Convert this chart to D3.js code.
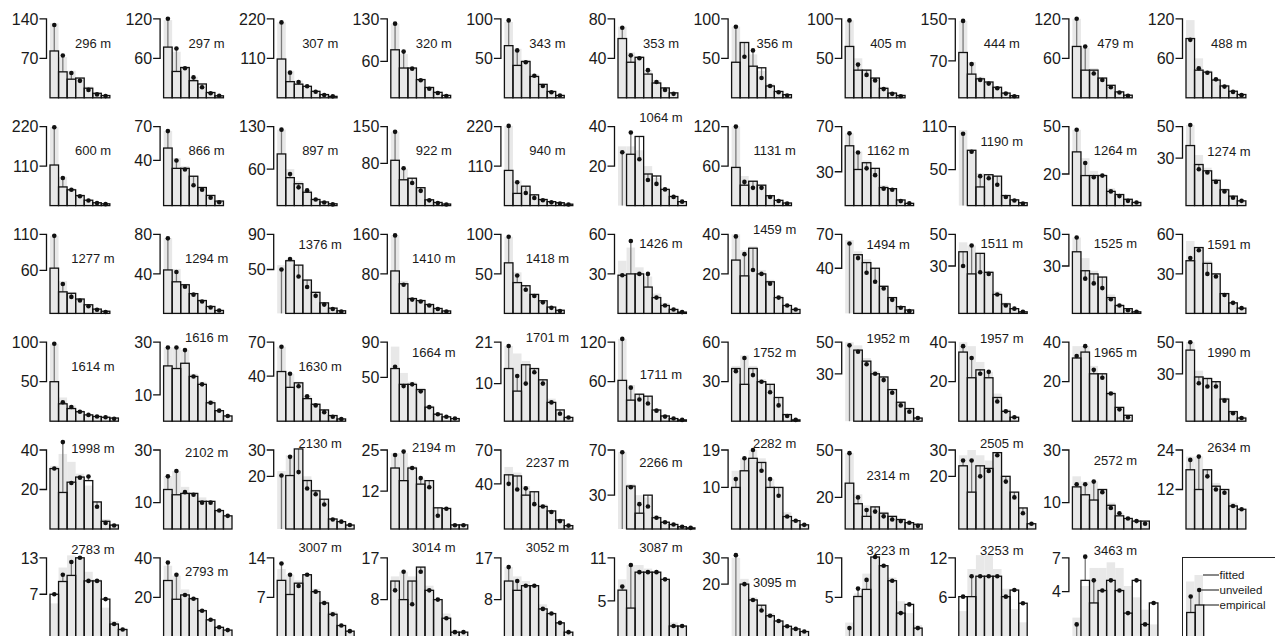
<!DOCTYPE html>
<html>
<head>
<meta charset="utf-8">
<script src="https://cdn.jsdelivr.net/npm/d3@7"></script>
<style>
  body { margin: 0; background: #fff; }
  svg { display: block; }
  text { font-family: "Liberation Sans", Arial, Helvetica, sans-serif; fill: #1a1a1a; }
</style>
</head>
<body>
<div id="chart"></div>
<script>
// site elevations, one panel each
const sites = ["296 m","297 m","307 m","320 m","343 m","353 m","356 m","405 m","444 m","479 m","488 m",
  "600 m","866 m","897 m","922 m","940 m","1064 m","1131 m","1162 m","1190 m","1264 m","1274 m",
  "1277 m","1294 m","1376 m","1410 m","1418 m","1426 m","1459 m","1494 m","1511 m","1525 m","1591 m",
  "1614 m","1616 m","1630 m","1664 m","1701 m","1711 m","1752 m","1952 m","1957 m","1965 m","1990 m",
  "1998 m","2102 m","2130 m","2194 m","2237 m","2266 m","2282 m","2314 m","2505 m","2572 m","2634 m",
  "2783 m","2793 m","3007 m","3014 m","3052 m","3087 m","3095 m","3223 m","3253 m","3463 m"];

// y axis tick labels (upper, lower)
const topTicks = [140,120,220,130,100,80,100,100,150,120,120,
  220,70,130,150,220,40,120,70,110,50,50,
  110,80,90,160,100,60,40,70,50,50,60,
  100,30,70,90,21,120,60,50,40,40,50,
  40,30,30,25,70,70,19,50,30,30,24,
  13,40,14,17,17,11,30,10,12,7];
const midTicks = [70,60,110,60,50,40,50,50,70,60,60,
  110,40,60,80,110,20,60,30,50,20,30,
  60,40,50,80,50,30,20,40,30,30,30,
  50,10,40,50,10,60,30,30,20,20,30,
  20,10,20,12,40,30,10,20,20,10,12,
  7,20,7,8,8,5,20,5,6,4];

// empirical counts per size class
const empirical = [
  [83,46,33,35,17,8,4],[77,40,46,26,21,8,3],[108,45,38,32,18,9,4],[79,49,49,30,17,9,4],
  [66,41,46,27,17,8,3],[60,36,41,24,15,10,5],[45,70,40,38,15,8,4],[65,35,35,25,12,6,3],
  [86,45,36,30,20,9,4],[78,42,42,30,19,9,4],[90,42,39,27,18,10,5],
  [113,52,44,28,15,8,5],[51,33,33,26,16,9,4],[85,46,36,22,10,6,3],[86,49,52,34,11,6,3],
  [98,34,54,30,17,11,8,4],[0,26,35,16,15,8.2,4.6,2],[58,31,37,31,15,8,4],[53,32,38,33,16,15,5,2],
  [0,77,26,43,41,14,8,4],[34,19,19,19,9,7,4,2],[38,26,22,16,10,6,3],
  [63,30,28,20,12,6,3],[44,32,29,20,13,7,3],[0,60,55,38,24,12,6,3],[86,60,30,26,18,10,5],
  [64,39,35,24,16,8,4],[29,30,30,20,12,6,3,1],[27,19,33,20,16,8,4,2],[0,52,45,40,24,14,6,3],
  [39,25,38,26,12,6,3,1],[39,27,25,23,10,5,3,1],[40,50,38,30,15,8,4],
  [50,22,16,12,8,6,5,4],[21,20,22,17,14,7,4,2],[44,30,34,20,15,10,5,2],[60,42,42,36,16,8,5,3],
  [14,8,15,14,11,5,3,1],[62,32,41,38,17,8,4,2],[40,28,40,30,28,18,5,1],[0,45,38,30,28,20,12,8,2],
  [35,22,26,22,12,5,2],[32,35,24,24,14,7,3],[45,28,27,25,14,6,2],
  [30.6,18.5,23.7,26.3,24.5,13.7,3.9,2],[15,13,13.5,13.5,10.5,10.5,7,5],
  [0,20.3,30.4,18.4,14.5,11.3,3.8,2.8,1.5],[19.3,15.3,19.3,14.2,15.3,6.7,6.5,1.3,1.3],
  [48,47,30,33,20,16,8,3],[0,38,14,30,10,6,4,2,1],[10,14,17,16,10,10,3,2,1],
  [29,16,8,14,10,8,6,4,3],[24,14,24,23,29,20,14,8,2],[16,13,11,15,9,5,4,3,3],[18,12,18,13,12,7,6],
  [7,9.1,10.1,13,9.2,9.2,6.2,2.1,1.2],[28.5,19,21.2,19.3,13.2,8.6,4.8,3.4],[10,7.5,9.5,11,8,6,4,2,1],
  [12,8,12,15,10,8,4,1,1],[12,10,11,11,6,5,3,1],[6.5,4,9,9,9,8,1.5,1.5],[0,20,14,12,8,6,4,3,2],
  [0,5.1,6.0,10.1,9.0,7.1,3.0,4.1,1.1],[6.1,6.1,9.2,9.2,9.2,6.1,7.1,5.1],[0,5,3,4.1,5,4.1,2.1,5,1.1,3]
];

// unveiled counts (dots)
const unveiled = [
  [129,75,44,30,14,6,3],[120,75,45,31,16,7,3],[210,70,44,32,17,8,4],[122,76,48,29,15,8,3],
  [98,60,45,28,15,7,3],[71,43,40,28,16,8,4],[90,52,60,25,15,7,3],[98,42,29,22,11,5,2],
  [146,64,34,27,18,8,3],[120,78,37,27,16,8,3],[88,45,38,28,17,9,4],
  [218,77,44,26,14,7,4],[66,40,32,18,14,7,3],[125,52,30,25,10,5,2],[140,71,43,28,10,5,2],
  [222,65,35,21,15,9,6,3],[27,37,23.5,13,11,8.2,4.4,2],[120,36,27,27,13,7,3],[64,47,33,27,15,14,4,2],
  [100,75,41,38,29,12,7,3],[48,27,18,19,9,6,3,2],[51,23,21,15,9,5,3],
  [108,41,23,18,10,5,2],[76,42,27,19,12,6,3],[50,62,42,30,20,10,5,2],[158,58,28,24,16,9,4],
  [97,48,30,22,14,7,3],[29,55,30,30,12,6,3,1],[39,30,22,20,15,8,4,2],[62,49,36,28,22,12,5,2],
  [30,43,26,25,12,5,3,1],[48,22,19,16,9,5,2,1],[42,48,30,28,14,8,4],
  [98,24,18,12,8,6,5,3],[28,28,27,17,14,7,4,2],[66,42,31,22,14,8,4,2],[62,40,42,34,16,8,5,3],
  [20,12,10,13,10,5,2,1],[125,51,33,27,16,7,4,2],[38,48,35,30,22,12,4,1],[48,44,36,30,26,18,10,6,2],
  [38,32,24,25,10,5,2],[33,38,26,22,14,6,2],[50,24,22,22,13,5,2],
  [30.6,44,23.3,26,26.6,11.3,3.1,1.8],[20,22,14,13,10,10,7,5],
  [20.3,27.4,21.6,15.4,13.2,9.3,3.6,2.8,1.5],[23.4,24.5,19.3,16.1,13.2,4.2,6.4,1.2,1.2],
  [40,35,36,22,20,15,7,3],[68,37,22,20,10,6,4,2,1],[12,17,19,14,12,8,3,2,1],
  [48,20,12,11,8,6,5,4,2],[26,26,20,22,28,18,12,6,2],[17,17,18,14,8,6,4,3,2],[21,22,16,12,11,7,6],
  [7,10.2,12.3,13,9.2,9.2,6.2,2.1,1.2],[37.6,31.4,21.2,19.3,13.2,8.6,4.8,3.4],[13,11,9,11,8,6,4,2,1],
  [10,14,7,14,10,8,4,1,1],[15,12,11,11,6,5,3,1],[7,10,9,9,9,8,1.5,1.5],[31,20,14,10,8,6,4,3,2],
  [1.1,6.1,7.2,10.1,9.0,7.1,3.0,4.1,1.1],[6.1,9.2,9.2,9.2,9.2,6.1,7.1,5.1],[1.1,7.1,5,4.1,5,4.1,2.1,5,1.1,3]
];

// fitted counts (grey background)
const fitted = [
  [132,72,48,34,20,9,4],[118,70,47,32,19,9,4],[210,75,48,34,20,10,5],[122,72,50,30,18,9,4],
  [96,62,48,30,18,9,4],[72,46,42,28,18,10,5],[90,70,55,34,18,9,4],[98,50,36,26,14,7,3],
  [146,68,40,30,20,9,4],[120,76,45,30,19,9,4],[118,60,42,30,20,10,5],
  [218,80,48,30,16,8,5],[66,42,35,27,17,9,4],[125,60,40,26,12,6,3],[140,70,52,34,12,6,3],
  [222,70,56,32,18,11,8,4],[30,30,28,20,14,9,5,2],[120,45,38,32,16,8,4],[64,48,40,33,18,15,5,2],
  [105,78,45,43,41,15,8,4],[48,30,22,20,11,7,4,2],[51,32,24,17,11,6,3],
  [108,45,30,21,13,6,3],[76,45,30,21,14,7,3],[55,62,55,38,24,12,6,3],[158,66,32,27,19,10,5],
  [97,52,36,25,16,8,4],[40,50,35,28,15,8,3,1],[40,32,34,22,17,9,4,2],[65,55,48,40,25,14,6,3],
  [45,43,38,27,14,7,3,1],[48,35,27,23,12,6,3,1],[55,50,40,30,16,8,4],
  [98,30,20,14,9,7,5,4],[28,28,27,18,15,8,4,2],[66,42,35,23,16,10,5,2],[85,55,45,38,18,9,5,3],
  [20,18,16,14,11,6,3,1],[125,55,42,38,18,8,4,2],[42,50,42,32,28,18,6,2],[50,48,40,32,28,20,12,8,2],
  [40,38,30,25,14,6,2],[38,38,28,24,15,7,3],[50,32,28,25,15,7,3],
  [32,38,34,28,22,14,5,2],[20,22,16,14,12,10,7,5],
  [22,28,30,20,15,11,4,3,1.5],[24,24,20,16,15,7,6.5,1.5,1.3],
  [55,50,38,33,22,16,8,3],[68,40,30,28,12,7,4,2,1],[14,17,19,17,12,10,4,2,1],
  [48,22,15,14,11,8,6,4,3],[28,30,28,26,29,20,14,8,2],[20,18,18,15,10,6,4,3,3],[22,22,18,14,12,8,6],
  [5.5,11.4,13.4,13,10.7,9.5,4.8,2.6,1.4],[36,31,24,20,14,9,5,3.5],[12,11,10,11,8.5,6.5,4.5,2,1],
  [13,14,13,15,11,8,5,1.5,1],[15,13,12,11,7,5,3,1],[8,10,10,9.5,9,8,2,1.5],[30,22,15,12,9,6,4,3,2],
  [1.8,5.5,8,10,9,7.5,4.5,3,1.5],[3.9,10.3,12.4,12.4,10.3,7.3,4.2,2.2],[1.7,4.5,6.1,6.1,6.6,6.1,4.5,3.5,2.4,1.1]
];

// layout: vertical offset of each site label above its baseline
const labelRise = [54,54,54,54,54,54,54,54,54,54,54,
  55,55,55,55,55,88,55,55,64,55,54,
  55,55,69,55,55,70,84,69,70,70,69,
  55,84,55,69,84,47,69,83,83,69,69,
  81,77,86,82,67,67,86,54,86,69,82,
  87,65,89,89,89,89,54,86,86,86];

const W = 1275, H = 636;
const nCols = 11;
const colStep = 113.6, rowStep = 107.8;
const left0 = 50, base0 = 97.8;
const binW = 8.55, plotH = 79;

const svg = d3.select("#chart").append("svg")
  .attr("width", W)
  .attr("height", H);

sites.forEach((site, k) => {
  const r = Math.floor(k / nCols), c = k % nCols;
  const x0 = left0 + c * colStep;
  const base = base0 + r * rowStep;
  const n = empirical[k].length;

  let x = d3.scaleBand()
    .domain(d3.range(n))
    .range([x0, x0 + n * binW]);
  let y = d3.scaleLinear()
    .domain([0, topTicks[k]])
    .range([base, base - plotH]);

  let g = svg.append("g").attr("class", "panel");

  // fitted background
  g.append("g").selectAll("rect")
    .data(fitted[k])
    .enter().append("rect")
    .attr("x", (d, i) => x(i))
    .attr("y", d => y(d))
    .attr("width", x.bandwidth())
    .attr("height", d => base - y(d))
    .attr("fill", "#e8e8e8");

  // stems from empirical top to unveiled dot
  g.append("g").selectAll("line")
    .data(unveiled[k])
    .enter().append("line")
    .attr("x1", (d, i) => x(i) + x.bandwidth() / 2)
    .attr("x2", (d, i) => x(i) + x.bandwidth() / 2)
    .attr("y1", (d, i) => y(empirical[k][i]))
    .attr("y2", d => y(d))
    .attr("stroke", "#7a7a7a")
    .attr("stroke-width", 1.3);

  // empirical bars, outline only
  g.append("g").selectAll("rect")
    .data(empirical[k].map((v, i) => ({v, i})).filter(d => d.v > 0))
    .enter().append("rect")
    .attr("x", d => x(d.i))
    .attr("y", d => y(d.v))
    .attr("width", x.bandwidth())
    .attr("height", d => base - y(d.v))
    .attr("fill", "none")
    .attr("stroke", "#111")
    .attr("stroke-width", 1.3);

  // unveiled dots
  g.append("g").selectAll("circle")
    .data(unveiled[k])
    .enter().append("circle")
    .attr("cx", (d, i) => x(i) + x.bandwidth() / 2)
    .attr("cy", d => y(d))
    .attr("r", 2.3)
    .attr("fill", "#111");

  // bracket-style y axis: two ticks joined by a vertical line
  const ax = x0 - 3.5;
  g.append("path")
    .attr("d", `M${ax - 7},${y(topTicks[k])}H${ax}V${y(midTicks[k])}H${ax - 7}`)
    .attr("fill", "none")
    .attr("stroke", "#111")
    .attr("stroke-width", 1.3);
  g.selectAll(".tick-label")
    .data([topTicks[k], midTicks[k]])
    .enter().append("text")
    .attr("class", "tick-label")
    .attr("x", ax - 8)
    .attr("y", d => y(d))
    .attr("dy", "0.36em")
    .style("text-anchor", "end")
    .style("font-size", "16px")
    .text(d => d);

  // site label
  g.append("text")
    .attr("x", x0 + 43)
    .attr("y", base - labelRise[k])
    .attr("dy", "0.36em")
    .style("text-anchor", "middle")
    .style("font-size", "13px")
    .text(site);
});

// Legend, bottom right
const lg = svg.append("g").attr("transform", "translate(1182.5,557.5)");
lg.append("rect")
  .attr("width", 120)
  .attr("height", 100)
  .attr("fill", "#fff")
  .attr("stroke", "#222")
  .attr("stroke-width", 1);
const legendFitted = [[3.5, 24], [12, 17.5]];
legendFitted.forEach(([lx, ly]) => {
  lg.append("rect").attr("x", lx).attr("y", ly).attr("width", 8.5).attr("height", 100 - ly)
    .attr("fill", "#e8e8e8");
});
const legendBars = [[4.2, 55, 39], [12.7, 47.5, 32.5]];
legendBars.forEach(([lx, top, dotY]) => {
  lg.append("line").attr("x1", lx + 4).attr("x2", lx + 4).attr("y1", top).attr("y2", dotY)
    .attr("stroke", "#7a7a7a").attr("stroke-width", 1.3);
  lg.append("rect").attr("x", lx).attr("y", top).attr("width", 8.5).attr("height", 100 - top)
    .attr("fill", "none").attr("stroke", "#111").attr("stroke-width", 1.3);
  lg.append("circle").attr("cx", lx + 4).attr("cy", dotY).attr("r", 2.3).attr("fill", "#111");
});
const legendItems = [["fitted", 20.5, 17.5], ["unveiled", 19, 32.5], ["empirical", 21.2, 47.5]];
legendItems.forEach(([name, x1, ly]) => {
  lg.append("line").attr("x1", x1).attr("x2", 36.5).attr("y1", ly).attr("y2", ly)
    .attr("stroke", "#111").attr("stroke-width", 1);
  lg.append("text").attr("x", 37).attr("y", ly).attr("dy", "0.36em")
    .style("font-size", "11.5px").text(name);
});
</script>
</body>
</html>
